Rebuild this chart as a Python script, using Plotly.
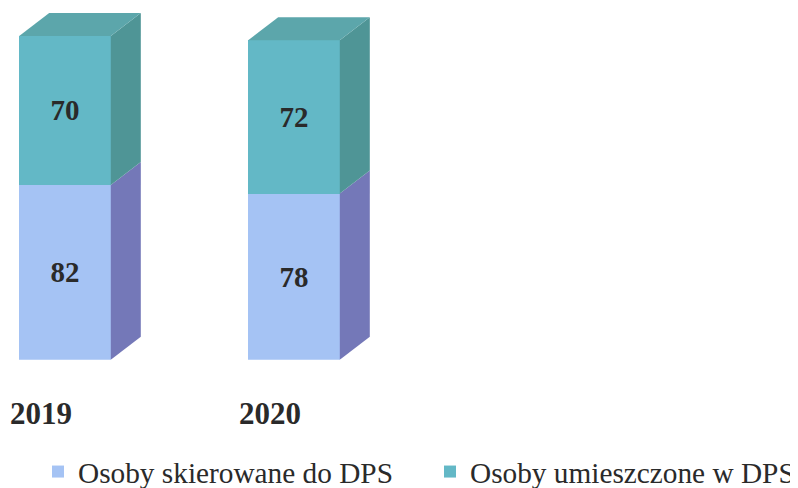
import plotly.graph_objects as go

years = ["2019", "2020"]
skierowane = [82, 78]
umieszczone = [70, 72]
series_names = ["Osoby skierowane do DPS", "Osoby umieszczone w DPS"]

positions = [0, 1]
BAR_W = 0.4
DX = 0.131
DY = 10.8
SERIF = "Liberation Serif"
TXT = "#2a2a2a"

C_FRONT_LOW = "#a5c3f4"
C_FRONT_UP = "#63b8c6"
C_SIDE_LOW = "#7478b8"
C_SIDE_UP = "#4f9596"
C_TOP = "#5ca6ab"


def side(x, lo, hi):
    r = x + BAR_W / 2
    return [r, r + DX, r + DX, r, r], [lo, lo + DY, hi + DY, hi, lo]


def top(x, h):
    l, r = x - BAR_W / 2, x + BAR_W / 2
    return [l, r, r + DX, l + DX, l], [h, h, h + DY, h + DY, h]


fig = go.Figure()
fig.add_bar(x=positions, y=skierowane, name=series_names[0], marker=dict(color=C_FRONT_LOW, line_width=0),
            width=BAR_W, text=skierowane, textposition="inside", insidetextanchor="middle",
            textangle=0, constraintext="none",
            textfont=dict(family=SERIF, size=29, color=TXT, weight="bold"))
fig.add_bar(x=positions, y=umieszczone, name=series_names[1], marker=dict(color=C_FRONT_UP, line_width=0),
            width=BAR_W, text=umieszczone, textposition="inside", insidetextanchor="middle",
            textangle=0, constraintext="none",
            textfont=dict(family=SERIF, size=29, color=TXT, weight="bold"))


def poly(xy, color):
    fig.add_scatter(x=xy[0], y=xy[1], mode="lines", fill="toself", fillcolor=color,
                    line=dict(width=0, color=color), showlegend=False, hoverinfo="skip")


for x, a, b in zip(positions, skierowane, umieszczone):
    poly(side(x, 0, a), C_SIDE_LOW)
    poly(side(x, a, a + b), C_SIDE_UP)
    poly(top(x, a + b), C_TOP)

W, H = 840, 488
PH = H - 49  # height left for the plot once the legend has reserved its strip
PITCH = 229.0
SCALE = 2.135
CENTER0 = 57.0
BASE = 352.5

fig.update_layout(
    width=W, height=H, barmode="stack",
    margin=dict(l=0, r=0, t=0, b=0, pad=0),
    paper_bgcolor="white", plot_bgcolor="white",
    xaxis=dict(range=[-CENTER0 / PITCH, (W - CENTER0) / PITCH], tickvals=positions, ticktext=years,
               showgrid=False, zeroline=False, showline=False, ticks="",
               ticklabelstandoff=32, ticklabelshift=-24, automargin=False,
               tickfont=dict(family=SERIF, size=31, color=TXT, weight="bold")),
    yaxis=dict(range=[0, BASE / SCALE], visible=False, domain=[(PH - BASE) / PH, 1]),
    legend=dict(orientation="h", xref="container", yref="container",
                x=30 / W, xanchor="left", y=(H - 464) / H, yanchor="middle",
                bgcolor="rgba(0,0,0,0)", traceorder="normal",
                entrywidth=347, entrywidthmode="pixels",
                font=dict(family=SERIF, size=29.3, color=TXT)),
    showlegend=True,
)
fig.write_html("out.html", config={"displayModeBar": False},
               default_width=f"{W}px", default_height=f"{H}px")
